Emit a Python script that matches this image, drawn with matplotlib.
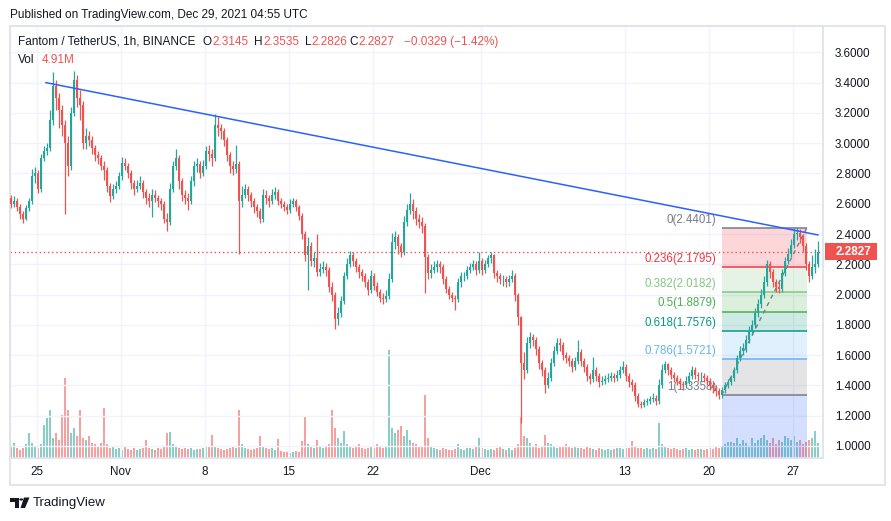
import numpy as np
import pandas as pd
import matplotlib
matplotlib.use("Agg")
import matplotlib.pyplot as plt
import matplotlib.dates as mdates
from matplotlib.patches import Rectangle, Polygon, Circle
from matplotlib.text import Annotation

plt.rcParams['font.family'] = ['Liberation Sans', 'DejaVu Sans']

# 6h candles, FTM/USDT
start_time = '2021-10-22 18:00'
first_open = 2.64
close = [
    2.60, 2.62, 2.58, 2.53, 2.50, 2.57, 2.62, 2.78, 2.80, 2.70,
    2.90, 2.95, 2.97, 3.15, 3.38, 3.30, 3.22, 3.12, 3.00, 2.85,
    3.20, 3.42, 3.30, 3.25, 3.00, 3.05, 3.02, 2.97, 2.92, 2.90,
    2.85, 2.82, 2.72, 2.65, 2.70, 2.72, 2.78, 2.87, 2.85, 2.80,
    2.74, 2.70, 2.72, 2.74, 2.68, 2.64, 2.62, 2.66, 2.64, 2.62,
    2.60, 2.50, 2.48, 2.70, 2.85, 2.90, 2.75, 2.66, 2.64, 2.62,
    2.75, 2.85, 2.86, 2.80, 2.85, 2.95, 2.93, 2.90, 3.12, 3.10,
    3.08, 3.02, 2.92, 2.85, 2.83, 2.86, 2.62, 2.66, 2.70, 2.66,
    2.62, 2.58, 2.55, 2.50, 2.66, 2.64, 2.62, 2.66, 2.68, 2.62,
    2.60, 2.58, 2.56, 2.60, 2.62, 2.58, 2.52, 2.40, 2.26, 2.32,
    2.22, 2.24, 2.15, 2.17, 2.18, 2.16, 2.05, 2.00, 1.84, 1.88,
    1.96, 2.12, 2.20, 2.26, 2.22, 2.18, 2.15, 2.12, 2.08, 2.03,
    2.12, 2.06, 2.02, 1.98, 1.97, 1.99, 2.10, 2.35, 2.38, 2.32,
    2.28, 2.48, 2.56, 2.60, 2.55, 2.50, 2.48, 2.45, 2.25, 2.14,
    2.16, 2.18, 2.20, 2.18, 2.10, 2.04, 2.00, 1.98, 1.97, 2.08,
    2.12, 2.12, 2.16, 2.18, 2.20, 2.16, 2.22, 2.16, 2.20, 2.24,
    2.26, 2.14, 2.12, 2.10, 2.10, 2.08, 2.10, 2.12, 2.00, 1.85,
    1.55, 1.50, 1.68, 1.72, 1.70, 1.64, 1.55, 1.50, 1.40, 1.45,
    1.55, 1.63, 1.68, 1.67, 1.60, 1.58, 1.56, 1.52, 1.56, 1.62,
    1.56, 1.52, 1.46, 1.44, 1.50, 1.46, 1.42, 1.43, 1.44, 1.45,
    1.46, 1.45, 1.47, 1.50, 1.52, 1.46, 1.42, 1.40, 1.33, 1.28,
    1.27, 1.29, 1.30, 1.31, 1.32, 1.30, 1.40, 1.50, 1.54, 1.50,
    1.47, 1.45, 1.43, 1.41, 1.40, 1.43, 1.46, 1.50, 1.47, 1.46,
    1.46, 1.45, 1.43, 1.40, 1.38, 1.36, 1.34, 1.37, 1.40, 1.42,
    1.45, 1.50, 1.58, 1.63, 1.65, 1.70, 1.76, 1.80, 1.88, 1.94,
    2.00, 2.08, 2.20, 2.15, 2.08, 2.05, 2.04, 2.14, 2.22, 2.27,
    2.33, 2.40, 2.41, 2.38, 2.32, 2.20, 2.12, 2.18, 2.20, 2.2827,
]
high = [
    2.66, 2.65, 2.64, 2.60, 2.55, 2.59, 2.64, 2.83, 2.84, 2.82,
    2.93, 2.98, 3.00, 3.22, 3.47, 3.42, 3.33, 3.25, 3.15, 3.05,
    3.24, 3.48, 3.45, 3.35, 3.28, 3.10, 3.08, 3.05, 2.99, 2.95,
    2.92, 2.88, 2.84, 2.74, 2.73, 2.75, 2.81, 2.91, 2.90, 2.87,
    2.82, 2.76, 2.76, 2.78, 2.76, 2.70, 2.67, 2.70, 2.69, 2.66,
    2.64, 2.62, 2.54, 2.74, 2.88, 2.96, 2.92, 2.77, 2.69, 2.67,
    2.78, 2.88, 2.90, 2.88, 2.89, 2.98, 2.99, 2.96, 3.19, 3.17,
    3.13, 3.10, 3.04, 2.94, 2.88, 2.99, 2.88, 2.72, 2.73, 2.72,
    2.68, 2.64, 2.60, 2.57, 2.70, 2.69, 2.66, 2.70, 2.71, 2.70,
    2.64, 2.62, 2.60, 2.63, 2.64, 2.63, 2.59, 2.54, 2.42, 2.38,
    2.35, 2.28, 2.40, 2.21, 2.22, 2.21, 2.18, 2.08, 2.02, 1.92,
    1.99, 2.15, 2.24, 2.29, 2.28, 2.24, 2.20, 2.17, 2.14, 2.10,
    2.16, 2.14, 2.08, 2.04, 2.01, 2.03, 2.14, 2.41, 2.42, 2.40,
    2.34, 2.52, 2.60, 2.67, 2.63, 2.58, 2.53, 2.51, 2.47, 2.27,
    2.20, 2.22, 2.23, 2.22, 2.20, 2.12, 2.06, 2.02, 2.00, 2.11,
    2.15, 2.15, 2.19, 2.21, 2.23, 2.22, 2.28, 2.24, 2.23, 2.26,
    2.28, 2.27, 2.16, 2.14, 2.13, 2.12, 2.13, 2.16, 2.14, 2.01,
    1.86, 1.62, 1.72, 1.75, 1.74, 1.72, 1.66, 1.57, 1.52, 1.49,
    1.58, 1.66, 1.71, 1.71, 1.69, 1.62, 1.60, 1.58, 1.59, 1.70,
    1.64, 1.58, 1.54, 1.48, 1.59, 1.52, 1.48, 1.46, 1.47, 1.48,
    1.49, 1.48, 1.50, 1.53, 1.56, 1.54, 1.48, 1.44, 1.42, 1.35,
    1.30, 1.31, 1.32, 1.33, 1.35, 1.34, 1.44, 1.54, 1.56, 1.55,
    1.52, 1.49, 1.47, 1.45, 1.43, 1.46, 1.49, 1.53, 1.52, 1.49,
    1.49, 1.48, 1.47, 1.45, 1.42, 1.40, 1.38, 1.39, 1.42, 1.44,
    1.47, 1.52, 1.60, 1.66, 1.68, 1.73, 1.79, 1.83, 1.91, 1.97,
    2.04, 2.12, 2.23, 2.22, 2.17, 2.10, 2.08, 2.17, 2.25, 2.31,
    2.37, 2.44, 2.44, 2.43, 2.40, 2.34, 2.22, 2.26, 2.30, 2.3535,
]
low = [
    2.57, 2.58, 2.55, 2.50, 2.47, 2.49, 2.55, 2.60, 2.74, 2.67,
    2.68, 2.88, 2.92, 2.95, 3.12, 3.22, 3.10, 3.05, 2.53, 2.78,
    2.82, 3.18, 3.24, 3.15, 2.96, 2.96, 2.98, 2.93, 2.88, 2.86,
    2.82, 2.76, 2.68, 2.61, 2.63, 2.67, 2.70, 2.76, 2.82, 2.77,
    2.70, 2.66, 2.68, 2.70, 2.64, 2.60, 2.58, 2.51, 2.61, 2.58,
    2.56, 2.47, 2.42, 2.46, 2.68, 2.82, 2.70, 2.62, 2.60, 2.56,
    2.60, 2.72, 2.81, 2.77, 2.78, 2.83, 2.88, 2.85, 2.88, 3.05,
    3.03, 2.98, 2.88, 2.80, 2.79, 2.80, 2.27, 2.58, 2.64, 2.62,
    2.58, 2.54, 2.51, 2.47, 2.48, 2.60, 2.58, 2.60, 2.63, 2.59,
    2.57, 2.55, 2.53, 2.54, 2.58, 2.55, 2.49, 2.37, 2.22, 2.03,
    2.19, 2.18, 2.12, 2.12, 2.14, 2.12, 2.02, 1.96, 1.77, 1.80,
    1.85, 1.94, 2.10, 2.18, 2.19, 2.15, 2.11, 2.09, 2.05, 2.00,
    2.01, 2.03, 1.99, 1.95, 1.94, 1.95, 1.97, 2.08, 2.30, 2.27,
    2.25, 2.26, 2.45, 2.53, 2.50, 2.46, 2.44, 2.41, 2.01, 2.10,
    2.11, 2.14, 2.15, 2.14, 2.07, 2.01, 1.97, 1.95, 1.90, 1.95,
    2.05, 2.09, 2.10, 2.14, 2.16, 2.13, 2.14, 2.13, 2.14, 2.18,
    2.21, 2.11, 2.08, 2.07, 2.06, 2.05, 2.06, 2.08, 1.96, 1.80,
    1.15, 1.44, 1.48, 1.65, 1.66, 1.60, 1.51, 1.46, 1.35, 1.38,
    1.43, 1.53, 1.61, 1.63, 1.57, 1.55, 1.53, 1.49, 1.50, 1.54,
    1.53, 1.49, 1.43, 1.41, 1.42, 1.43, 1.39, 1.40, 1.41, 1.42,
    1.43, 1.42, 1.43, 1.45, 1.48, 1.43, 1.39, 1.36, 1.30, 1.26,
    1.25, 1.26, 1.27, 1.28, 1.29, 1.27, 1.28, 1.38, 1.48, 1.47,
    1.44, 1.42, 1.40, 1.38, 1.37, 1.38, 1.41, 1.44, 1.44, 1.43,
    1.43, 1.42, 1.40, 1.37, 1.35, 1.33, 1.31, 1.32, 1.35, 1.38,
    1.40, 1.43, 1.48, 1.56, 1.60, 1.62, 1.68, 1.73, 1.78, 1.85,
    1.91, 1.98, 2.06, 2.11, 2.05, 2.02, 2.01, 2.02, 2.12, 2.20,
    2.25, 2.31, 2.36, 2.34, 2.28, 2.16, 2.08, 2.10, 2.14, 2.18,
]
volume = [  # millions per 6h
    36, 45, 30, 24, 30, 42, 75, 45, 36, 30,
    42, 99, 120, 144, 60, 75, 54, 129, 240, 144,
    75, 90, 66, 144, 60, 54, 66, 45, 42, 36,
    45, 150, 42, 30, 36, 27, 30, 24, 36, 27,
    24, 30, 24, 27, 30, 54, 30, 27, 24, 30,
    27, 36, 75, 78, 42, 36, 30, 27, 30, 27,
    30, 24, 27, 27, 30, 36, 36, 69, 36, 30,
    27, 24, 27, 30, 36, 30, 144, 42, 30, 27,
    24, 27, 30, 66, 36, 30, 27, 30, 24, 57,
    21, 18, 18, 15, 18, 21, 18, 51, 126, 42,
    36, 30, 54, 36, 30, 36, 42, 144, 90, 60,
    45, 81, 42, 36, 30, 36, 42, 30, 27, 30,
    36, 30, 42, 36, 30, 36, 324, 90, 75, 84,
    96, 66, 84, 54, 45, 42, 36, 36, 189, 60,
    36, 30, 27, 24, 30, 27, 24, 24, 27, 42,
    27, 24, 30, 30, 27, 36, 60, 30, 27, 24,
    27, 24, 30, 36, 27, 24, 30, 24, 30, 42,
    126, 66, 60, 45, 36, 42, 30, 36, 69, 45,
    42, 36, 30, 36, 33, 42, 36, 30, 36, 30,
    30, 27, 36, 30, 27, 24, 30, 27, 24, 27,
    24, 27, 30, 30, 27, 30, 30, 51, 36, 30,
    30, 27, 30, 27, 30, 27, 105, 42, 36, 30,
    27, 30, 27, 24, 27, 30, 24, 27, 24, 27,
    27, 24, 27, 30, 27, 36, 30, 36, 42, 48,
    48, 45, 60, 42, 54, 45, 36, 60, 45, 54,
    60, 69, 54, 45, 60, 42, 54, 48, 66, 60,
    54, 66, 48, 54, 42, 48, 54, 60, 81, 45,
]

last_price = 2.2827

# legend values of the last 1h bar
ohlc_names = ['O', 'H', 'L', 'C']
ohlc_values = ['2.3145', '2.3535', '2.2826', '2.2827']
change_text = '\u22120.0329 (\u22121.42%)'
vol_text = '4.91M'

# fibonacci retracement
fib_start, fib_end = '2021-12-21 02:00', '2021-12-28 04:00'
fib_levels = ['0', '0.236', '0.382', '0.5', '0.618', '0.786', '1', '1.618']
fib_prices = [2.4401, 2.1795, 2.0182, 1.8879, 1.7576, 1.5721, 1.3358, 0.6534]
fib_colors = ['#787b86', '#f23645', '#81c784', '#4caf50', '#089981', '#64b5f6', '#787b86', '#2962ff']

# trend line
trend_times = ['2021-10-25 18:30', '2021-12-29 02:30']
trend_prices = [3.40, 2.394]

price_ticks = [1.0, 1.2, 1.4, 1.6, 1.8, 2.0, 2.2, 2.4, 2.6, 2.8, 3.0, 3.2, 3.4, 3.6]
date_ticks = ['2021-10-25', '2021-11-01', '2021-11-08', '2021-11-15', '2021-11-22',
              '2021-12-01', '2021-12-13', '2021-12-20', '2021-12-27']
date_labels = ['25', 'Nov', '8', '15', '22', 'Dec', '13', '20', '27']

UP, DOWN = '#26a69a', '#ef5350'
TXT = '#131722'
GRID = '#f0f3fa'
BORDER = '#e0e3eb'

W, H = 891, 521
fig = plt.figure(figsize=(W / 100, H / 100), dpi=100)
fig.patch.set_facecolor('white')


def rect(x0, y0, x1, y1):
    return [x0 / W, 1 - y1 / H, (x1 - x0) / W, (y1 - y0) / H]


def ftext(x, y, s, **kw):
    return fig.text(x / W, 1 - y / H, s, va='center', **kw)


ax = fig.add_axes(rect(10, 26, 823, 458))
axv = ax.twinx()
ax.set_zorder(axv.get_zorder() + 1)
ax.patch.set_visible(False)

close = np.array(close)
opens = np.concatenate([[first_open], close[:-1]])
high = np.array(high)
low = np.array(low)
t = mdates.date2num(pd.date_range(start_time, periods=len(close), freq='6h')) + 0.125
up = close >= opens
cols = np.where(up, UP, DOWN)

# volume
axv.bar(t, volume, width=0.2, color=cols, alpha=0.55, linewidth=0)
axv.set_ylim(0, 1296)
axv.yaxis.set_visible(False)
for s in axv.spines.values():
    s.set_visible(False)

# fib bands: each band takes the colour of its lower level
f0 = mdates.date2num(pd.Timestamp(fib_start))
f1 = mdates.date2num(pd.Timestamp(fib_end))
for k in range(len(fib_prices) - 1):
    ax.fill_between([f0, f1], fib_prices[k], fib_prices[k + 1],
                    color=fib_colors[k + 1], alpha=0.2, linewidth=0, zorder=1)
for k in range(len(fib_prices)):
    ax.hlines(fib_prices[k], f0, f1, colors=fib_colors[k], linewidth=1.1, zorder=1.5)
    ax.annotate(f'{fib_levels[k]}({fib_prices[k]:.4f})', (f0, fib_prices[k]),
                xytext=(-4, 1.5), textcoords='offset points', ha='right', va='bottom',
                color=fib_colors[k], fontsize=8.3, zorder=1.5, annotation_clip=True)
ax.plot([f0, f1], [fib_prices[6], fib_prices[0]], color='#787b86',
        linestyle=(0, (3, 3)), linewidth=1, zorder=1.6)

# candles
ax.vlines(t, low, high, colors=cols, linewidth=0.9, zorder=3)
body = np.maximum(np.abs(close - opens), 0.004)
ax.bar(t, body, bottom=np.minimum(close, opens), width=0.2, color=cols,
       linewidth=0, zorder=3)

# trend line
tt = mdates.date2num(pd.to_datetime(trend_times))
ax.plot(tt, trend_prices, color='#2962ff', linewidth=1.1, zorder=4)

# last price
ax.axhline(last_price, color=DOWN, linestyle=(0, (1, 2)), linewidth=1, zorder=2)
yt = ax.get_yaxis_transform()
ax.add_patch(Rectangle((1.002, last_price - 0.056), 52 / 813, 0.112, transform=yt,
                       facecolor=DOWN, edgecolor='none', clip_on=False, zorder=6))
ax.text(1.0155, last_price, f'{last_price:.4f}', transform=yt, color='white',
        fontsize=8.4, fontweight='bold', va='center', ha='left', zorder=7)

base = mdates.date2num(pd.Timestamp('2021-10-25'))
ax.set_xlim(base - 2.225, base + 65.525)
ax.set_ylim(0.9207, 3.774)

ax.set_yticks(price_ticks)
ax.set_yticklabels([f'{p:.4f}' for p in price_ticks])
ax.yaxis.tick_right()
ax.set_xticks(mdates.date2num(pd.to_datetime(date_ticks)))
ax.set_xticklabels(date_labels)
ax.tick_params(axis='y', length=0, pad=8.6, labelsize=8.4, labelcolor=TXT)
ax.tick_params(axis='x', length=0, pad=5.5, labelsize=8.4, labelcolor=TXT)
ax.grid(True, color=GRID, linewidth=1, zorder=0)
ax.set_axisbelow(True)
for s in ax.spines.values():
    s.set_color(BORDER)
    s.set_linewidth(1.3)

# outer frame
fig.add_artist(Rectangle((10 / W, 1 - 485 / H), 875 / W, 459 / H, transform=fig.transFigure,
                         fill=False, edgecolor=BORDER, linewidth=1.3))

# header
ftext(10, 15, 'Published on TradingView.com, Dec 29, 2021 04:55 UTC', color=TXT, fontsize=8.5)
HS = 8.5
ftext(18, 42, 'Fantom / TetherUS, 1h, BINANCE', color=TXT, fontsize=HS)
for x, lab, val in zip([202.5, 254, 304.5, 349], ohlc_names, ohlc_values):
    lt = ftext(x, 42, lab, color=TXT, fontsize=HS)
    ann = Annotation(val, xy=(1, 0.5), xycoords=lt, xytext=(0.6, 0),
                     textcoords='offset points', va='center', ha='left',
                     color=DOWN, fontsize=HS)
    ann.set_figure(fig)
    fig.texts.append(ann)
ftext(404, 42, change_text, color=DOWN, fontsize=HS)
ftext(18, 60, 'Vol', color=TXT, fontsize=HS)
ftext(41.5, 60, vol_text, color=DOWN, fontsize=HS)

# footer logo
fig.add_artist(Polygon([(10 / W, 1 - 497.5 / H), (19 / W, 1 - 497.5 / H), (19 / W, 1 - 508 / H),
                        (15 / W, 1 - 508 / H), (15 / W, 1 - 501.5 / H), (10 / W, 1 - 501.5 / H)],
                       closed=True, transform=fig.transFigure, facecolor=TXT, edgecolor='none'))
fig.add_artist(Polygon([(24 / W, 1 - 497.5 / H), (29.5 / W, 1 - 497.5 / H), (25 / W, 1 - 508 / H),
                        (20.5 / W, 1 - 508 / H)],
                       closed=True, transform=fig.transFigure, facecolor=TXT, edgecolor='none'))
fig.add_artist(Circle((21.2 / W, 1 - 499.5 / H), 1.9 / W, transform=fig.transFigure,
                      facecolor=TXT, edgecolor='none'))
ftext(33, 503, 'TradingView', color=TXT, fontsize=9.5)

fig.savefig('out.png', dpi=100)
